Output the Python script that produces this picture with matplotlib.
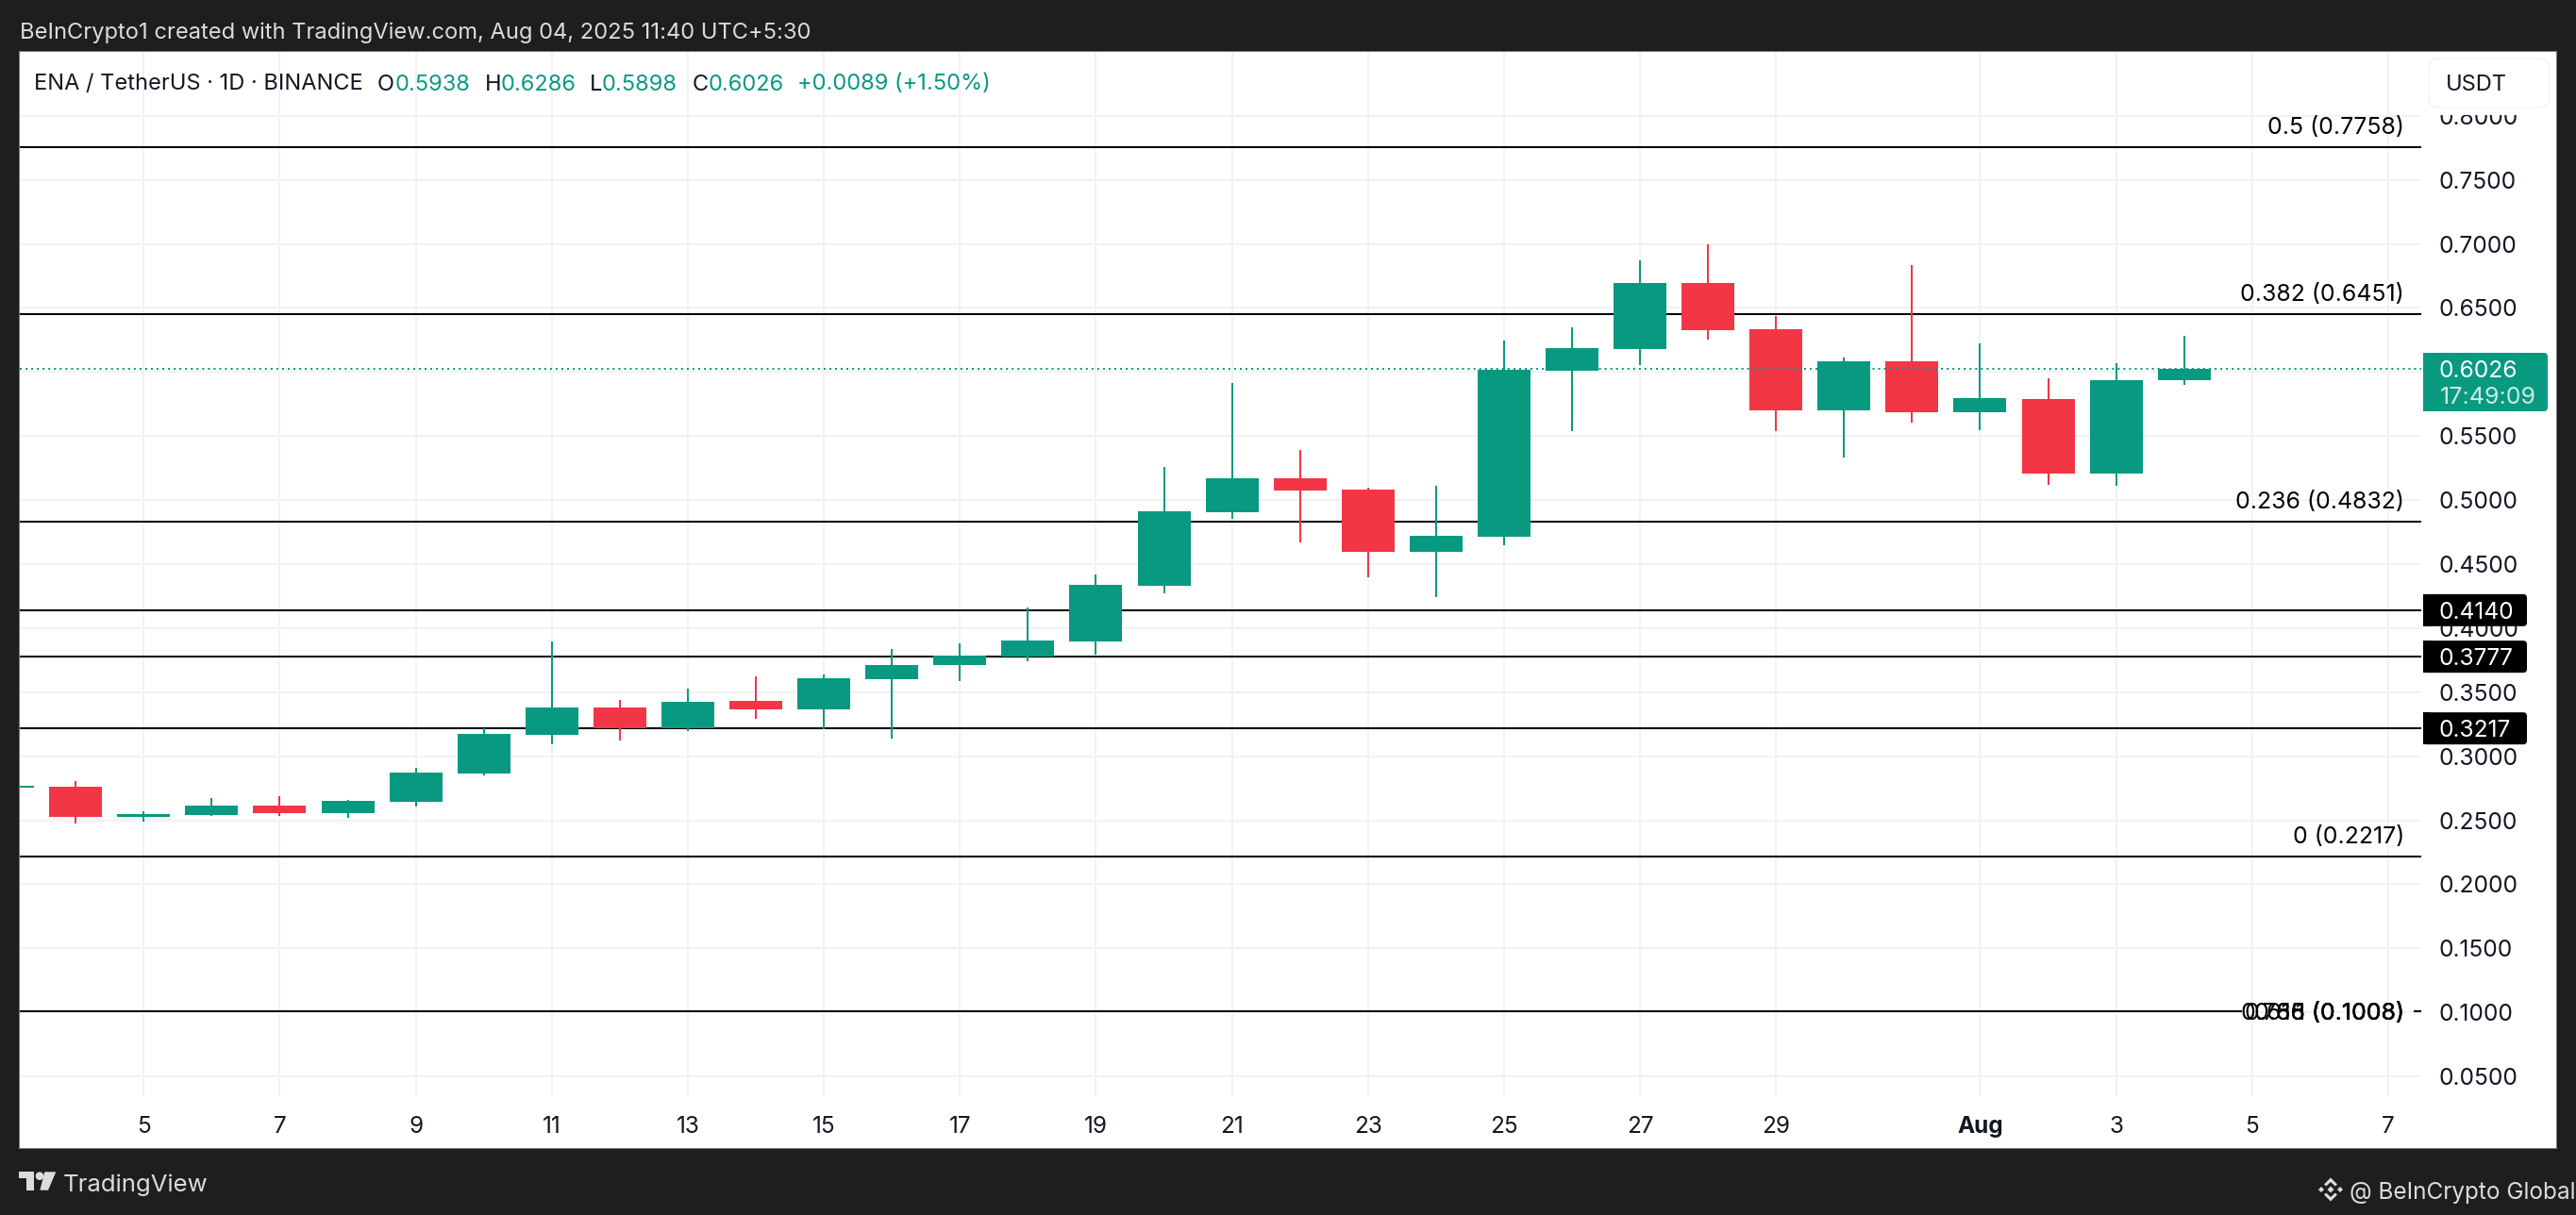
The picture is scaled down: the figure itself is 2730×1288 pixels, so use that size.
import matplotlib
matplotlib.use("Agg")
import matplotlib.pyplot as plt
from matplotlib.patches import Rectangle, FancyBboxPatch, Polygon, Circle

# ---- data -----------------------------------------------------------------
days   = [3, 4, 5, 6, 7, 8, 9, 10, 11, 12, 13, 14, 15, 16, 17, 18, 19, 20, 21,
          22, 23, 24, 25, 26, 27, 28, 29, 30, 31, 32, 33, 34, 35]
opens  = [.2755, .2762, .2526, .2541, .2614, .2555, .2644, .2865, .3167, .3381,
          .3219, .3432, .3366, .3601, .3712, .3778, .3896, .4331, .4905, .5170,
          .5082, .4596, .4714, .6010, .6180, .6695, .6334, .5701, .6084, .5686,
          .5789, .5207, .5938]
closes = [.2768, .2526, .2548, .2614, .2555, .2651, .2872, .3174, .3381, .3219,
          .3425, .3366, .3609, .3712, .3786, .3903, .4338, .4913, .5170, .5075,
          .4596, .4721, .6018, .6187, .6695, .6327, .5701, .6084, .5686, .5797,
          .5207, .5937, .6026]
highs  = [.2775, .2806, .2570, .2673, .2688, .2658, .2909, .3219, .3896, .3439,
          .3528, .3624, .3638, .3837, .3882, .4161, .4419, .5259, .5914, .5391,
          .5097, .5112, .6246, .6349, .6872, .6997, .6437, .6113, .6835, .6224,
          .5951, .6069, .6286]
lows   = [.2750, .2474, .2489, .2533, .2533, .2518, .2607, .2850, .3093, .3123,
          .3196, .3292, .3211, .3138, .3587, .3741, .3793, .4272, .4854, .4669,
          .4397, .4243, .4647, .5539, .6054, .6253, .5539, .5333, .5605, .5546,
          .5119, .5112, .5898]

fib_levels = [.7758, .6451, .4832, .2217]
fib_labels = ["0.5 (0.7758)", "0.382 (0.6451)", "0.236 (0.4832)", "0 (0.2217)"]
stacked_level = .1008
stacked_labels = ["0.618 (0.1008)", "0.65 (0.1008)", "0.786 (0.1008)", "1 (0.1008)"]
key_levels = [.4140, .3777, .3217]
key_labels = ["0.4140", "0.3777", "0.3217"]
last_price = .6026
price_ticks = [.80, .75, .70, .65, .55, .50, .45, .40, .35, .30, .25, .20, .15, .10, .05]
grid_prices = [.80, .75, .70, .65, .60, .55, .50, .45, .40, .35, .30, .25, .20, .15, .10, .05]
time_ticks  = [5, 7, 9, 11, 13, 15, 17, 19, 21, 23, 25, 27, 29, 32, 34, 36, 38]
time_labels = ["5", "7", "9", "11", "13", "15", "17", "19", "21", "23", "25", "27", "29",
               "Aug", "3", "5", "7"]

# ---- style ----------------------------------------------------------------
W, H = 2730, 1288
FRAME = "#1e1e1e"
GREEN = "#089981"
RED = "#F23645"
GRID = "#f2f2f2"
TEXT = "#131722"
PALE = "#dcdcdc"
FONT = "Inter"
plt.rcParams["font.family"] = [FONT, "DejaVu Sans"]

fig = plt.figure(figsize=(W / 100, H / 100), dpi=100, facecolor=FRAME)

def fx(x): return x / W
def fy(y): return 1 - y / H

def ptext(x, y, s, size, color=TEXT, ha="left", va="center_baseline", zorder=20, **kw):
    return fig.text(fx(x), fy(y), s, fontsize=size, color=color, ha=ha, va=va, zorder=zorder, **kw)

def prect(x0, y0, x1, y1, color, zorder=1, **kw):
    r = Rectangle((x0, H - y1), x1 - x0, y1 - y0, facecolor=color, edgecolor="none",
                  transform=None, zorder=zorder, **kw)
    fig.add_artist(r)
    return r

def proundbox(x0, y0, x1, y1, color, zorder, rad=5, ec="none"):
    r = FancyBboxPatch((x0 + rad, H - y1 + rad), x1 - x0 - 2 * rad, y1 - y0 - 2 * rad,
                       boxstyle=f"round,pad={rad},rounding_size={rad}", facecolor=color,
                       edgecolor=ec, linewidth=1, transform=None, zorder=zorder)
    fig.add_artist(r)

def ppoly(points, color, zorder=20):
    fig.add_artist(Polygon([(x, H - y) for x, y in points], closed=True, facecolor=color,
                           edgecolor="none", transform=None, zorder=zorder))

# panel
prect(20, 54, 2710, 1218, "#787878", zorder=0)
prect(21, 55, 2709, 1217, "white", zorder=0.5)

# main axes
L, R, T, B = 21, 2566, 55, 1162
ax = fig.add_axes([fx(L), fy(B), fx(R - L), (B - T) / H], zorder=2)
ax.patch.set_alpha(0)
for s in ax.spines.values():
    s.set_visible(False)
XPX0, XSTEP = 152.3, 72.08
def xdata(px):
    return 5 + (px - XPX0) / XSTEP
ax.set_xlim(xdata(L), xdata(R))
ax.set_ylim(.89047 - B / 1357.6, .89047 - T / 1357.6)
ax.set_xticks([]); ax.set_yticks([])

for v in grid_prices:
    ax.axhline(v, color=GRID, lw=1.45, zorder=1)
for d in time_ticks:
    ax.axvline(d, color=GRID, lw=1.45, zorder=1)

for v in fib_levels + key_levels:
    ax.axhline(v, color="black", lw=1.45, zorder=2)
# this line is broken where its stacked labels sit
ax.hlines(stacked_level, xdata(L), xdata(2376), color="black", lw=1.45, zorder=2)
ax.hlines(stacked_level, xdata(2558), xdata(R), color="black", lw=1.45, zorder=2)

body_w = 56 / XSTEP
for d, o, c, h, l in zip(days, opens, closes, highs, lows):
    col = GREEN if c >= o else RED
    ax.vlines(d, l, h, color=col, lw=1.45, zorder=4)
    ax.add_patch(Rectangle((d - body_w / 2, min(o, c)), body_w, abs(c - o), facecolor=col,
                           edgecolor="none", zorder=5))

ax.axhline(last_price, color=GREEN, lw=1.45, linestyle=(0, (1.0, 2.0)), zorder=6)

def ypx(v):
    return (.89047 - v) * 1357.6
def xpx(d):
    return XPX0 + XSTEP * (d - 5)

# fib labels
LABEL_R = 2548
for v, s in zip(fib_levels, fib_labels):
    ptext(LABEL_R, ypx(v) - 23, s, 17.9, color="black", ha="right", zorder=8)
for s in stacked_labels:
    ptext(LABEL_R, ypx(stacked_level), s, 17.9, color="black", ha="right", zorder=8)

# price axis
TICK_X = 2585
for v in price_ticks:
    ptext(TICK_X, ypx(v), f"{v:.4f}", 17.7, zorder=8)
prect(2567, 55, 2708, 122, "white", zorder=9)
proundbox(2574, 62, 2702, 114, "white", 10, rad=10, ec="#f0f3fa")
ptext(2592, 87, "USDT", 17, zorder=11)

for v, s in zip(key_levels, key_labels):
    y = ypx(v)
    proundbox(2568, y - 17, 2678, y + 17, "black", 10, rad=4)
    prect(2568, y - 17, 2576, y + 17, "black", zorder=10)
    ptext(TICK_X, y, s, 17.7, color="white", zorder=11)

proundbox(2568, 374, 2700, 436, GREEN, 10, rad=4)
prect(2568, 374, 2576, 436, GREEN, zorder=10)
ptext(TICK_X, ypx(last_price), f"{last_price:.4f}", 17.7, color="white", zorder=11)
ptext(2586, 418.5, "17:49:09", 18, color="#cfe9e3", zorder=11)

# time axis
for d, s in zip(time_ticks, time_labels):
    ptext(xpx(d), 1192, s, 17.5, ha="center", zorder=8, fontweight="bold" if s == "Aug" else "normal")

# header
ptext(21, 32, "BeInCrypto1 created with TradingView.com, Aug 04, 2025 11:40 UTC+5:30", 17.05, color=PALE)
ptext(36.5, 87, "ENA / TetherUS · 1D · BINANCE", 17)
for x, s in [(400, "O"), (514, "H"), (625, "L"), (734, "C")]:
    ptext(x, 87, s, 17)
for x, s in [(419, "0.5938"), (531, "0.6286"), (638, "0.5898"), (751, "0.6026"),
             (845, "+0.0089 (+1.50%)")]:
    ptext(x, 87, s, 17, color=GREEN)

# footer: TradingView mark and name
ppoly([(20, 1242.3), (36, 1242.3), (36, 1261.7), (27.7, 1261.7), (27.7, 1249), (20, 1249)], PALE)
fig.add_artist(Circle((42, H - 1246.7), 4.3, facecolor=PALE, edgecolor="none", transform=None, zorder=20))
ppoly([(47.3, 1242.3), (59.3, 1242.3), (51, 1261.7), (42.3, 1261.7)], PALE)
ptext(67, 1254, "TradingView", 18.5, color=PALE)

# footer: exchange mark and handle
BX, BY = 2470, 1261
def diamond(cx, cy, r):
    ppoly([(BX + cx, BY + cy - r), (BX + cx + r, BY + cy), (BX + cx, BY + cy + r), (BX + cx - r, BY + cy)], PALE)
for cx, cy, r in [(0, 0, 3.5), (-10, 0, 3), (10, 0, 3)]:
    diamond(cx, cy, r)
for sgn in (-1, 1):
    ppoly([(BX, BY + sgn * 12.5), (BX + 7, BY + sgn * 5.5), (BX + 4.8, BY + sgn * 3.5), (BX, BY + sgn * 8),
           (BX - 4.8, BY + sgn * 3.5), (BX - 7, BY + sgn * 5.5)], PALE)
ptext(2490, 1262, "@ BeInCrypto Global", 17.5, color=PALE)

fig.savefig("out.png", dpi=100, facecolor=FRAME)
